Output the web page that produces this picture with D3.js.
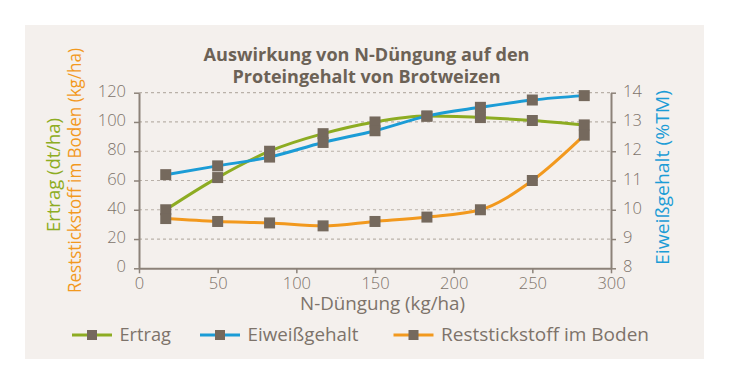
<!DOCTYPE html>
<html><head><meta charset="utf-8">
<script src="https://cdn.jsdelivr.net/npm/d3@7/dist/d3.min.js"></script>
<style>
body{margin:0;background:#fff;}
svg{display:block;font-family:"Open Sans",sans-serif;}
</style></head>
<body><svg id="c" width="730" height="383"></svg>
<script>
const nDuengung = [17, 50, 83, 117, 150, 183, 217, 250, 283];
const ertrag = [40, 62, 80, 92, 100, 104, 103, 101, 98];
const eiweiss = [11.2, 11.5, 11.8, 12.3, 12.7, 13.2, 13.5, 13.75, 13.9];
const reststickstoff = [34, 32, 31, 29, 32, 35, 40, 60, 91];
const xTicks = [0, 50, 100, 150, 200, 250, 300];
const leftTicks = [0, 20, 40, 60, 80, 100, 120];
const rightTicks = [8, 9, 10, 11, 12, 13, 14];
const titleLines = ["Auswirkung von N-Düngung auf den", "Proteingehalt von Brotweizen"];
const seriesNames = ["Ertrag", "Eiweißgehalt", "Reststickstoff im Boden"];

const C = {green:"#8dac22", blue:"#1b9cd6", orange:"#f2991e", marker:"#75695d",
  text:"#7d736a", title:"#6c6256", axis:"#8c8279", grid:"#b9b1a9", bg:"#f4f0ed"};

const svg = d3.select("#c");
svg.append("rect").attr("x",25).attr("y",25).attr("width",679).attr("height",334).attr("fill",C.bg);

const x = d3.scaleLinear().domain([0,300]).range([139,611]);
const yL = d3.scaleLinear().domain([0,120]).range([268.3,92.7]);
const yR = d3.scaleLinear().domain([8,14]).range([268.3,92.7]);

// title (two lines)
const titleLen = [326, 268];
svg.append("g").attr("fill",C.title).attr("font-weight","bold").attr("font-size",17.5)
  .selectAll("text").data(titleLines).join("text")
  .attr("text-anchor","middle").attr("x",366.5).attr("y",(d,i)=>60.5+i*22)
  .attr("textLength",(d,i)=>titleLen[i]).attr("lengthAdjust","spacingAndGlyphs").text(d=>d);

// grid
svg.append("g").selectAll("line").data(leftTicks.filter(d=>d>0)).join("line")
  .attr("x1",x(0)).attr("x2",x(300)).attr("y1",d=>yL(d)).attr("y2",d=>yL(d))
  .attr("stroke",C.grid).attr("stroke-width",1.2).attr("stroke-dasharray","3,3");

function styleAxis(g, vertical){
  g.select(".domain").attr("stroke",C.axis).attr("stroke-width",2);
  g.selectAll(".tick line").attr("stroke",C.axis).attr("stroke-width",1.5);
  const t = g.selectAll(".tick text").attr("fill",C.text).attr("font-size",16.5).attr("font-family","Open Sans, sans-serif").attr("font-weight",300);
  if (vertical) t.attr("dy","0.22em");
}
svg.append("g").attr("transform","translate(0,268.3)")
  .call(d3.axisBottom(x).tickValues(xTicks).tickSize(5).tickSizeOuter(0).tickPadding(4))
  .call(g=>styleAxis(g,false));
svg.append("g").attr("transform","translate(139,0)")
  .call(d3.axisLeft(yL).tickValues(leftTicks).tickSize(5).tickSizeOuter(0).tickPadding(8))
  .call(g=>styleAxis(g,true));
svg.append("g").attr("transform","translate(611,0)")
  .call(d3.axisRight(yR).tickValues(rightTicks).tickFormat(d3.format("d")).tickSize(5).tickSizeOuter(0).tickPadding(7))
  .call(g=>styleAxis(g,true));

// axis titles
function label(tx, ty, rot, color, len, txt){
  svg.append("text").attr("transform",`translate(${tx},${ty}) rotate(${rot})`).attr("text-anchor","middle")
    .attr("fill",color).attr("font-size",17.5).attr("textLength",len).attr("lengthAdjust","spacingAndGlyphs").text(txt);
}
label(60, 175, -90, C.green, 114, "Ertrag (dt/ha)");
label(81, 170.5, -90, C.orange, 245, "Reststickstoff im Boden (kg/ha)");
label(669, 177.5, -90, C.blue, 175, "Eiweißgehalt (%TM)");
label(382.5, 310, 0, C.text, 165, "N-Düngung (kg/ha)");

// series
const series = [
  {vals:ertrag, y:yL, color:C.green},
  {vals:eiweiss, y:yR, color:C.blue},
  {vals:reststickstoff, y:yL, color:C.orange}
];
series.forEach(s=>{
  const pts = nDuengung.map((d,i)=>[x(d), s.y(s.vals[i])]);
  svg.append("path").attr("d",d3.line().curve(d3.curveMonotoneX)(pts))
    .attr("fill","none").attr("stroke",s.color).attr("stroke-width",3);
});
series.forEach(s=>{
  svg.append("g").selectAll("rect").data(nDuengung).join("rect")
    .attr("x",(d)=>x(d)-5.5).attr("y",(d,i)=>s.y(s.vals[i])-5.5)
    .attr("width",11).attr("height",11).attr("fill",C.marker);
});

// legend
const legX = [72, 200, 393.5];
const legLen = [51.5, 111, 208];
const lg = svg.append("g");
seriesNames.forEach((n,i)=>{
  const g = lg.append("g").attr("transform",`translate(${legX[i]},335)`);
  g.append("line").attr("x1",0).attr("x2",40).attr("stroke",series[i].color).attr("stroke-width",3);
  g.append("rect").attr("x",15).attr("y",-5).attr("width",10).attr("height",10).attr("fill",C.marker);
  g.append("text").attr("x",47.5).attr("y",5.5).attr("fill",C.text).attr("font-size",18.5)
    .attr("textLength",legLen[i]).attr("lengthAdjust","spacingAndGlyphs").text(n);
});
</script></body></html>
